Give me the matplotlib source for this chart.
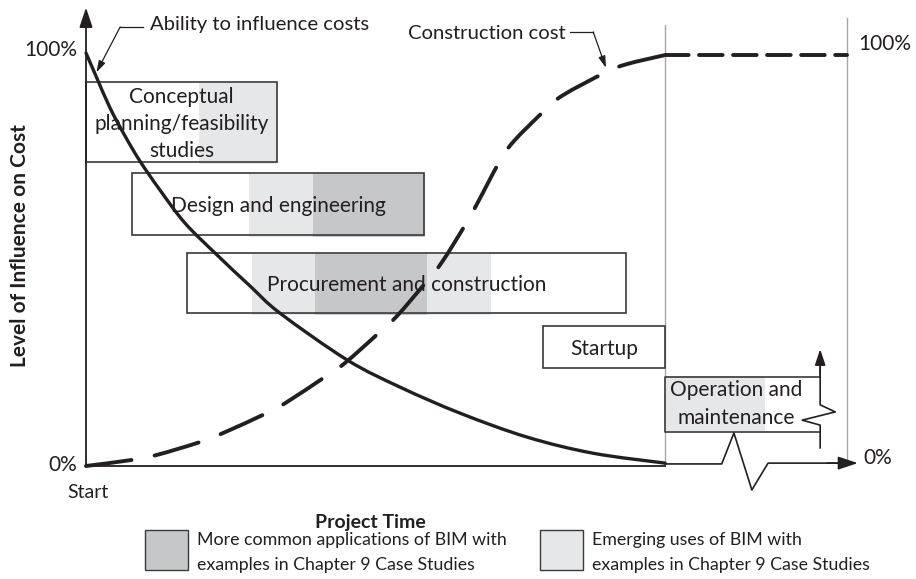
import matplotlib
matplotlib.use("Agg")
import matplotlib.pyplot as plt
import numpy as np
from matplotlib.patches import Rectangle, PathPatch
from matplotlib.path import Path

plt.rcParams['font.family'] = ['Lato', 'DejaVu Sans']
plt.rcParams['lines.scale_dashes'] = False

# ---------------- data (time: 0 = start, 100 = end of startup; level in %) -------------
ability_t = [0, 1.73, 4.15, 6.74, 9.33, 12.78, 17.10, 22.63, 28.32, 33.51, 45.08, 54.23,
             64.59, 76.17, 87.56, 100]
ability_L = [100, 94.4, 86.7, 79.9, 73.8, 66.8, 58.8, 51.1, 43.6, 37.0, 25.7, 19.1,
             12.8, 7.0, 3.1, 0.7]

cost_t = [0, 8.1, 12.3, 19.7, 23.7, 30.9, 34.5, 41.3, 44.7, 50.4, 53.7, 58.6, 61.5, 65.5,
          67.7, 71.3, 73.8, 79.3, 82.4, 89.6, 93.4, 100]
cost_L = [0, 1.5, 2.7, 5.8, 8.0, 12.6, 15.3, 21.6, 24.9, 32.0, 36.3, 44.3, 49.4, 58.4,
          63.9, 73.4, 78.5, 86.2, 89.8, 95.2, 97.3, 99.5]
plateau_t = [100, 131.4]
plateau_L = [99.5, 99.5]

phases = ["Conceptual\nplanning/feasibility\nstudies", "Design and engineering",
          "Procurement and construction", "Startup"]
phase_start = [0, 7.9, 17.4, 78.9]
phase_end = [33.0, 58.4, 93.3, 100]
phase_low = [73.6, 55.9, 37.0, 23.7]
phase_high = [93.0, 70.9, 51.6, 33.9]
# BIM use spans inside each phase: (phase index, start, end, kind)
bim_phase = [0, 1, 1, 2, 2, 2]
bim_start = [19.5, 28.2, 39.2, 28.7, 39.6, 58.9]
bim_end = [33.2, 39.2, 58.6, 39.6, 58.9, 69.9]
bim_kind = ["emerging", "emerging", "common", "emerging", "common", "emerging"]

op_label = "Operation and\nmaintenance"
op_start, op_end = 100, 126.8
op_low, op_high = 8.2, 21.5
op_bim_end = 117.3

legend_labels = ["More common applications of BIM with\nexamples in Chapter 9 Case Studies",
                 "Emerging uses of BIM with\nexamples in Chapter 9 Case Studies"]

# ---------------- style -------------
INK = '#231f20'
LIGHT = '#e6e7e9'
DARK = '#c6c7c9'
EDGE = '#3a3a3a'
GRID = '#a8a8a8'
FS = 15
bim_color = {"emerging": LIGHT, "common": DARK}


def smooth_path(x, y):
    """Smooth Bezier path passing through the given points (Catmull-Rom)."""
    pts = np.column_stack([x, y]).astype(float)
    n = len(pts)
    verts = [pts[0]]
    codes = [Path.MOVETO]
    for i in range(n - 1):
        p0 = pts[i - 1] if i > 0 else pts[i]
        p1, p2 = pts[i], pts[i + 1]
        p3 = pts[i + 2] if i + 2 < n else pts[i + 1]
        verts += [p1 + (p2 - p0) / 6.0, p2 - (p3 - p1) / 6.0, p2]
        codes += [Path.CURVE4] * 3
    return Path(verts, codes)


fig = plt.figure(figsize=(9.16, 5.79), dpi=100)
ax = fig.add_axes([0, 0, 1, 1])
ax.set_xlim(-14.853, 143.35)
ax.set_ylim(-27.36, 112.83)
ax.axis('off')

# gray vertical guide lines
ax.plot([100, 100], [0, 106.8], color=GRID, lw=1.0, zorder=1)
ax.plot([131.4, 131.4], [1.4, 108.5], color=GRID, lw=1.0, zorder=1)

# phase shading
for p, s, e, k in zip(bim_phase, bim_start, bim_end, bim_kind):
    ax.add_patch(Rectangle((s, phase_low[p] - 0.4), e - s, phase_high[p] - phase_low[p] + 0.2,
                           facecolor=bim_color[k], edgecolor='none', zorder=2))
ax.add_patch(Rectangle((op_start, op_low + 0.3), op_bim_end - op_start, op_high - op_low,
                       facecolor=LIGHT, edgecolor='none', zorder=2))

# phase boxes
for name, s, e, lo, hi in zip(phases, phase_start, phase_end, phase_low, phase_high):
    ax.add_patch(Rectangle((s, lo), e - s, hi - lo, facecolor='none', edgecolor=EDGE,
                           lw=1.2, zorder=3))
    ax.text((s + e) / 2, (lo + hi) / 2 - 0.5, name, ha='center', va='center', fontsize=FS,
            color=INK, linespacing=1.45, zorder=4)

# operation & maintenance box (open right side with break)
ax.plot([op_end, op_start, op_start, op_end], [op_high, op_high, op_low, op_low],
        color=EDGE, lw=1.2, zorder=3)
ax.plot([op_end, op_end, 123.7, 129.4, op_end, op_end],
        [4.4, 9.9, 11.1, 13.1, 14.8, 25], color=INK, lw=1.2, zorder=3)
ax.annotate('', xy=(op_end, 28.3), xytext=(op_end, 22),
            arrowprops=dict(arrowstyle='-|>,head_length=0.6,head_width=0.2', lw=1.2,
                            color=INK, shrinkA=0, shrinkB=0, mutation_scale=16), zorder=3)
ax.text(112.3, 15.0, op_label, ha='center', va='center', fontsize=FS, color=INK,
        linespacing=1.45, zorder=4)

# axes
ax.annotate('', xy=(0, 111.0), xytext=(0, 0),
            arrowprops=dict(arrowstyle='-|>,head_length=0.6,head_width=0.2', lw=1.3,
                            color=INK, shrinkA=0, shrinkB=0, mutation_scale=20), zorder=5)
ax.plot([0, 100], [0, 0], color=INK, lw=1.3, zorder=5)
ax.plot([100, 109.8, 111.9, 115.0, 117.8, 130], [0.5, 0.5, 8.0, -5.8, 0.7, 0.7],
        color=INK, lw=1.2, zorder=5)
ax.annotate('', xy=(133.3, 0.7), xytext=(128, 0.7),
            arrowprops=dict(arrowstyle='-|>,head_length=0.6,head_width=0.2', lw=1.2,
                            color=INK, shrinkA=0, shrinkB=0, mutation_scale=20), zorder=5)

# curves
ax.add_patch(PathPatch(smooth_path(ability_t, ability_L), facecolor='none', edgecolor=INK,
                       lw=2.4, capstyle='round', zorder=6))
ax.add_patch(PathPatch(smooth_path(cost_t, cost_L), facecolor='none', edgecolor=INK,
                       lw=2.8, linestyle=(0, (33, 17)), capstyle='round', zorder=6))
ax.plot(plateau_t, plateau_L, color=INK, lw=2.8, dashes=(17, 7.5), dash_capstyle='round', zorder=6)

# leader lines
ax.plot([9.8, 5.9], [106.3, 106.3], color=INK, lw=0.9, zorder=6)
ax.annotate('', xy=(1.8, 95.3), xytext=(5.9, 106.3),
            arrowprops=dict(arrowstyle='-|>,head_length=0.5,head_width=0.15', lw=0.9,
                            color=INK, shrinkA=0, shrinkB=0, mutation_scale=14), zorder=6)
ax.plot([83.6, 87.6], [105.1, 105.1], color=INK, lw=0.9, zorder=6)
ax.annotate('', xy=(89.8, 96.4), xytext=(87.6, 105.1),
            arrowprops=dict(arrowstyle='-|>,head_length=0.5,head_width=0.15', lw=0.9,
                            color=INK, shrinkA=0, shrinkB=0, mutation_scale=14), zorder=6)

# texts
ax.text(11.05, 106.8, "Ability to influence costs", ha='left', va='center', fontsize=14.6, color=INK)
ax.text(82.9, 104.8, "Construction cost", ha='right', va='center', fontsize=14.6, color=INK)
ax.text(-1.55, 100.7, "100%", ha='right', va='center', fontsize=FS, color=INK)
ax.text(-1.55, 0.2, "0%", ha='right', va='center', fontsize=FS, color=INK)
ax.text(133.3, 102.2, "100%", ha='left', va='center', fontsize=FS, color=INK)
ax.text(134.2, 1.9, "0%", ha='left', va='center', fontsize=FS, color=INK)
ax.text(0.35, -6.3, "Start", ha='center', va='center', fontsize=14, color=INK)
ax.text(49.2, -13.6, "Project Time", ha='center', va='center', fontsize=14,
        fontweight='bold', color=INK)
ax.text(-11.4, 53.3, "Level of Influence on Cost", ha='center', va='center', fontsize=15,
        fontweight='bold', rotation=90, color=INK)

# legend
for x0, lab, col in zip([10.2, 78.4], legend_labels, [DARK, LIGHT]):
    ax.add_patch(Rectangle((x0, -25.2), 7.4, 9.7, facecolor=col, edgecolor=EDGE, lw=1.0))
    ax.text(x0 + 9.0, -21.0, lab, ha='left', va='center', fontsize=12.8, color=INK,
            linespacing=1.72)

fig.savefig("out.png", dpi=100)
